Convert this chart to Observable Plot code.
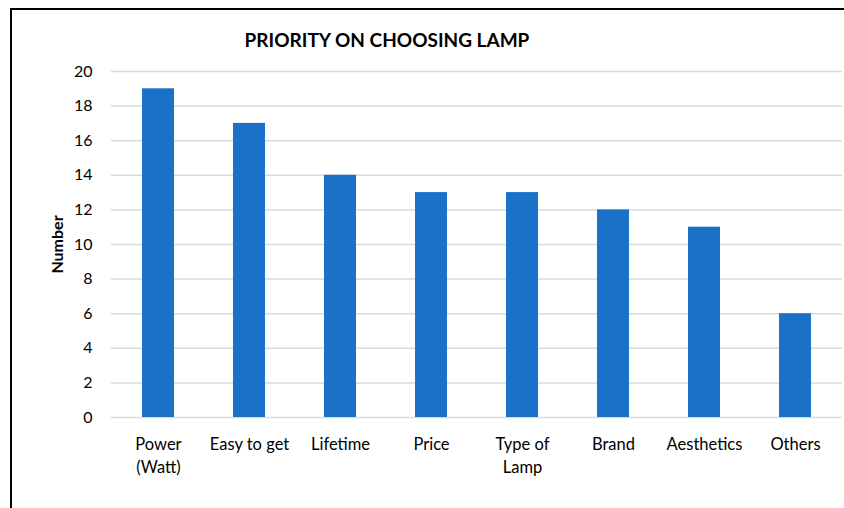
<!DOCTYPE html>
<html><head><meta charset="utf-8">
<script src="https://cdn.jsdelivr.net/npm/d3@7"></script>
<script src="https://cdn.jsdelivr.net/npm/@observablehq/plot@0.6"></script>
<style>
body{margin:0;background:#fff;font-family:Lato,"Open Sans",sans-serif;}
#frame{position:absolute;left:10px;top:8px;width:860px;height:520px;border:2px solid #000;box-sizing:border-box;}
#title{position:absolute;left:0;width:774px;top:28px;text-align:center;font-weight:bold;font-size:19px;color:#000;}
#chart{position:absolute;left:0;top:0;}
</style></head>
<body>
<div id="frame"></div>
<div id="chart"></div>
<div id="title">PRIORITY ON CHOOSING LAMP</div>
<script>
const categories = ["Power (Watt)", "Easy to get", "Lifetime", "Price", "Type of Lamp", "Brand", "Aesthetics", "Others"];
const tickLabels = ["Power\n(Watt)", "Easy to get", "Lifetime", "Price", "Type of\nLamp", "Brand", "Aesthetics", "Others"];
const values = [19, 17, 14, 13, 13, 12, 11, 6];
const yTicks = [0, 2, 4, 6, 8, 10, 12, 14, 16, 18, 20];

const data = categories.map((c, i) => ({category: c, value: values[i]}));
const labelOf = new Map(categories.map((c, i) => [c, tickLabels[i]]));

const chart = Plot.plot({
  width: 844,
  height: 508,
  marginTop: 71,
  marginBottom: 91,
  marginLeft: 111,
  marginRight: 2,
  style: {fontFamily: "Lato, 'Open Sans', sans-serif", fontSize: "16px", color: "#000", background: "transparent"},
  x: {domain: categories, paddingInner: 0.65, paddingOuter: 0.325, label: null, tickSize: 0, tickPadding: 16, tickFormat: d => labelOf.get(d)},
  y: {domain: [0, 20], ticks: yTicks, label: null, tickSize: 0, tickPadding: 19},
  marks: [
    Plot.ruleY(yTicks, {stroke: "#d9d9d9", strokeWidth: 1.5}),
    Plot.barY(data, {x: "category", y: "value", fill: "#1a71c8"}),
    Plot.axisX({tickSize: 0, tickPadding: 16, fontSize: 16.5, lineHeight: 1.4, tickFormat: d => labelOf.get(d)}),
    Plot.axisY({ticks: yTicks, tickSize: 0, tickPadding: 19, fontSize: 16, label: null}),
    Plot.text(["Number"], {frameAnchor: "left", textAnchor: "middle", dx: -54, rotate: -90, fontWeight: "bold", fontSize: 16})
  ]
});
document.getElementById("chart").appendChild(chart);
</script>
</body></html>
